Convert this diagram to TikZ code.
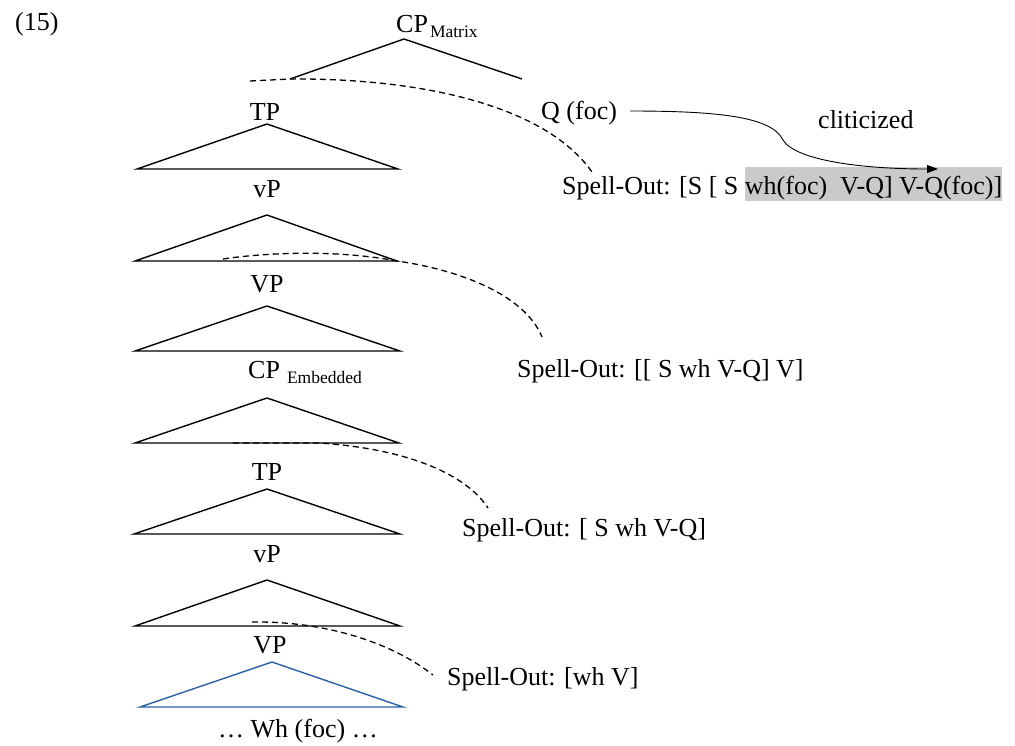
\documentclass[tikz,border=0pt]{standalone}
\usepackage{fontspec}
\setmainfont{Liberation Serif}
\usetikzlibrary{arrows.meta}
\definecolor{hlgray}{RGB}{202,202,202}
\definecolor{treeblue}{RGB}{45,95,165}
\newcommand{\subfont}{\fontsize{17.5}{20}\selectfont}
\begin{document}
\begin{tikzpicture}[x=1pt,y=-1pt,
  lbl/.style={inner sep=0pt, font=\fontsize{26}{30}\selectfont},
  tri/.style={line width=1.4pt, line join=miter},
  spellline/.style={line width=1.3pt, dash pattern=on 6pt off 4pt},
  clitic/.style={line width=0.9pt, -{Triangle[length=11pt,width=8pt]}}]
\useasboundingbox (0,0) rectangle (1015,745);

% example number
\node[lbl, anchor=base west] (num) at (15,30) {(15)};

% matrix CP with its two branches
\node[lbl, anchor=base west] (cpm) at (396,32) {CP\hspace{2pt}\raisebox{-5pt}{\subfont Matrix}};
\coordinate (cpmtop) at (404,39);
\coordinate (cpml) at (290,79);
\coordinate (cpmr) at (522,79);
\draw[tri] (cpml) -- (cpmtop) -- (cpmr);

% Q and cliticization
\node[lbl, anchor=base west] (q) at (541,119) {Q (foc)};
\node[lbl, anchor=base west] (clit) at (818,128) {cliticized};

% spell-out domains
\node[lbl, anchor=base west] (so1) at (562,194)
  {Spell-Out: [S [ S {\setlength{\fboxsep}{0pt}\colorbox{hlgray}{\rule[-7pt]{0pt}{34pt}wh(foc)\ \ V-Q] V-Q(foc)]}}};
\node[lbl, anchor=base west] (so2) at (517,377) {Spell-Out: [[ S wh V-Q] V]};
\node[lbl, anchor=base west] (so3) at (462,536) {Spell-Out: [ S wh V-Q]};
\node[lbl, anchor=base west] (so4) at (447,685) {Spell-Out: [wh V]};

% tree labels
\node[lbl, anchor=base] (tp1) at (265,120) {TP};
\node[lbl, anchor=base] (vp1) at (267,197) {vP};
\node[lbl, anchor=base] (bvp1) at (267,292) {VP};
\node[lbl, anchor=base west] (cpe) at (248,378) {CP\hspace{7pt}\raisebox{-5pt}{\subfont Embedded}};
\node[lbl, anchor=base] (tp2) at (267,480) {TP};
\node[lbl, anchor=base] (vp2) at (267,562) {vP};
\node[lbl, anchor=base] (bvp2) at (270,653) {VP};
\node[lbl, anchor=base west] (wh) at (218,737) {\dots\ Wh (foc) \dots};

% subtree triangles
\draw[tri] (137,169) -- (267,124) -- (398,169) -- cycle;
\draw[tri] (135,261) -- (267,215) -- (397,261) -- cycle;
\draw[tri] (135,351) -- (267,306) -- (400,351) -- cycle;
\draw[tri] (135,443) -- (267,398) -- (399,443) -- cycle;
\draw[tri] (134,534) -- (267,489) -- (400,534) -- cycle;
\draw[tri] (135,626) -- (267,580) -- (400,626) -- cycle;
\draw[tri, draw=treeblue] (140,707) -- (272,662) -- (403,707) -- cycle;

% dashed spell-out connectors
\coordinate (d1s) at (250,81);
\coordinate (d1e) at (592,172);
\draw[spellline] (d1s) -- (cpml) .. controls (420,78) and (545,105) .. (d1e);

\coordinate (d2s) at (223,259);
\coordinate (d2m) at (397,261);
\coordinate (d2e) at (542,337);
\draw[spellline] (d2s) .. controls (270,252) and (340,250) .. (d2m)
  .. controls (460,270) and (525,295) .. (d2e);

\coordinate (d3s) at (233,443);
\coordinate (d3m) at (320,443);
\coordinate (d3e) at (488,508);
\draw[spellline] (d3s) -- (d3m) .. controls (420,450) and (470,480) .. (d3e);

\coordinate (d4s) at (252,622);
\coordinate (d4e) at (433,675);
\draw[spellline] (d4s) .. controls (330,621) and (395,645) .. (d4e);

% cliticization arrow
\coordinate (arrs) at (630,111);
\coordinate (arrk) at (783,140);
\coordinate (arre) at (938,169);
\draw[clitic] (arrs) .. controls (720,111) and (772,117) .. (arrk)
  .. controls (795,160) and (860,169) .. (arre);
\end{tikzpicture}
\end{document}
